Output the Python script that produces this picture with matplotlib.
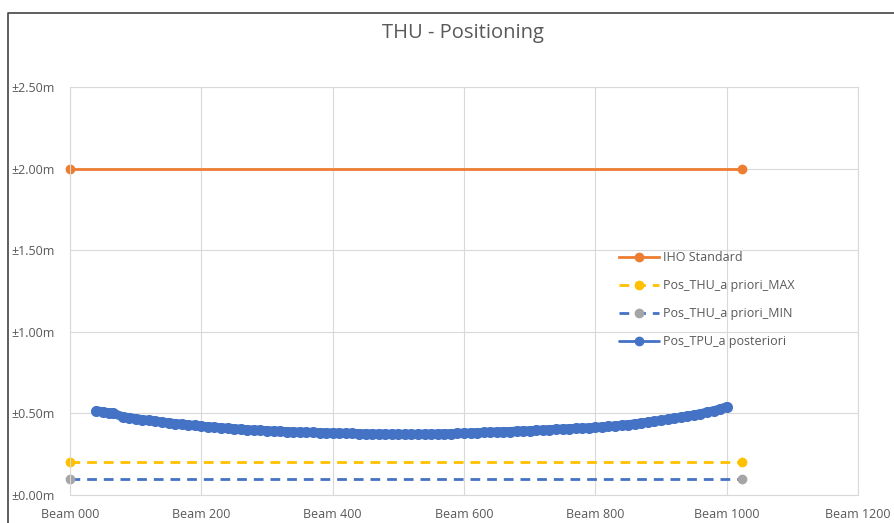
import matplotlib
matplotlib.use("Agg")
import matplotlib.pyplot as plt
from matplotlib.lines import Line2D
from matplotlib.ticker import FuncFormatter, MultipleLocator

# standard / a priori lines (beam, metres)
std_beams = [0, 1023]
iho_standard = [2.0, 2.0]
thu_max = [0.2, 0.2]
thu_min = [0.1, 0.1]

# a posteriori TPU per beam
tpu_beams = [40, 50, 60, 66,
             80, 90, 100, 110, 120, 130, 140, 150, 160, 170, 180, 190,
             200, 210, 220, 230, 240, 250, 260, 270, 280, 290,
             300, 310, 320, 330, 340, 350, 360, 370, 380, 390,
             400, 410, 420, 430, 440, 450, 460, 470, 480, 490,
             500, 510, 520, 530, 540, 550, 560, 570, 580, 590,
             600, 610, 620, 630, 640, 650, 660, 670, 680, 690,
             700, 710, 720, 730, 740, 750, 760, 770, 780, 790,
             800, 810, 820, 830, 840, 850, 860, 870, 880, 890,
             900, 910, 920, 930, 940, 950, 960, 970, 980, 990, 1000]
tpu_post = [0.515, 0.510, 0.503, 0.500,
            0.480, 0.474, 0.468, 0.462, 0.457, 0.452, 0.447, 0.442, 0.438, 0.434, 0.430, 0.426,
            0.422, 0.418, 0.415, 0.412, 0.409, 0.406, 0.403, 0.400, 0.398, 0.396,
            0.394, 0.392, 0.390, 0.388, 0.387, 0.385, 0.384, 0.383, 0.382, 0.381,
            0.380, 0.379, 0.378, 0.377, 0.376, 0.375, 0.374, 0.374, 0.373, 0.373,
            0.372, 0.372, 0.372, 0.372, 0.373, 0.373, 0.374, 0.375, 0.376, 0.378,
            0.379, 0.380, 0.382, 0.383, 0.385, 0.386, 0.388, 0.389, 0.391, 0.392,
            0.394, 0.396, 0.398, 0.400, 0.402, 0.404, 0.406, 0.408, 0.410, 0.412,
            0.414, 0.417, 0.420, 0.423, 0.427, 0.431, 0.436, 0.441, 0.446, 0.451,
            0.457, 0.463, 0.469, 0.476, 0.483, 0.490, 0.498, 0.507, 0.516, 0.527, 0.541]

grey_txt = "#595959"
plt.rcParams["font.family"] = ["Open Sans", "DejaVu Sans"]

fig = plt.figure(figsize=(8.94, 5.23), dpi=100)
ax = fig.add_axes([70 / 894, 1 - 495 / 523, 788 / 894, 408 / 523])

ax.plot(std_beams, iho_standard, color="#ED7D31", lw=2, marker="o", ms=6,
        label="IHO Standard", clip_on=False)
ax.plot(std_beams, thu_max, color="#FFC000", lw=2, ls=(0, (3.5, 2.5)), marker="o", ms=6,
        label="Pos_THU_a priori_MAX", clip_on=False)
ax.plot(std_beams, thu_min, color="#4472C4", lw=2, ls=(0, (3.5, 2.5)), marker="o", ms=6,
        mfc="#A5A5A5", mec="#A5A5A5", label="Pos_THU_a priori_MIN", clip_on=False)
ax.plot(tpu_beams, tpu_post, color="#4472C4", lw=6.5, marker="o", ms=8, mew=0,
        solid_capstyle="round", label="Pos_TPU_a posteriori")

ax.set_xlim(0, 1200)
ax.set_ylim(0, 2.5)
ax.xaxis.set_major_locator(MultipleLocator(200))
ax.yaxis.set_major_locator(MultipleLocator(0.5))
ax.xaxis.set_major_formatter(FuncFormatter(lambda v, p: "Beam %03d" % v))
ax.yaxis.set_major_formatter(FuncFormatter(lambda v, p: "\u00b1%.2fm" % v))
ax.grid(True, color="#D9D9D9", lw=0.8)
ax.set_axisbelow(True)
for s in ax.spines.values():
    s.set_color("#D9D9D9")
    s.set_linewidth(0.8)
ax.tick_params(length=0, labelcolor=grey_txt, labelsize=9)
ax.tick_params(axis="x", pad=9)
ax.tick_params(axis="y", pad=11)

fig.text(463 / 894, 1 - 33 / 523, "THU - Positioning", ha="center", va="center",
         fontsize=14.5, color=grey_txt)

leg = ax.legend(loc="upper left", bbox_to_anchor=(619 / 894, 1 - 251 / 523),
                bbox_transform=fig.transFigure, frameon=False, fontsize=9,
                labelcolor=grey_txt, handlelength=3.2, handletextpad=0.35,
                labelspacing=1.2, borderpad=0, borderaxespad=0)
for h in leg.legend_handles:
    h.set_markersize(6)
    h.set_markeredgewidth(1)
    h.set_linewidth(2)

# outer chart border (left and top edges visible)
fig.add_artist(Line2D([8 / 894, 8 / 894, 1], [0, 1 - 13 / 523, 1 - 13 / 523],
                      transform=fig.transFigure, color="#444444", lw=1.2))

fig.savefig("out.png", dpi=100)
